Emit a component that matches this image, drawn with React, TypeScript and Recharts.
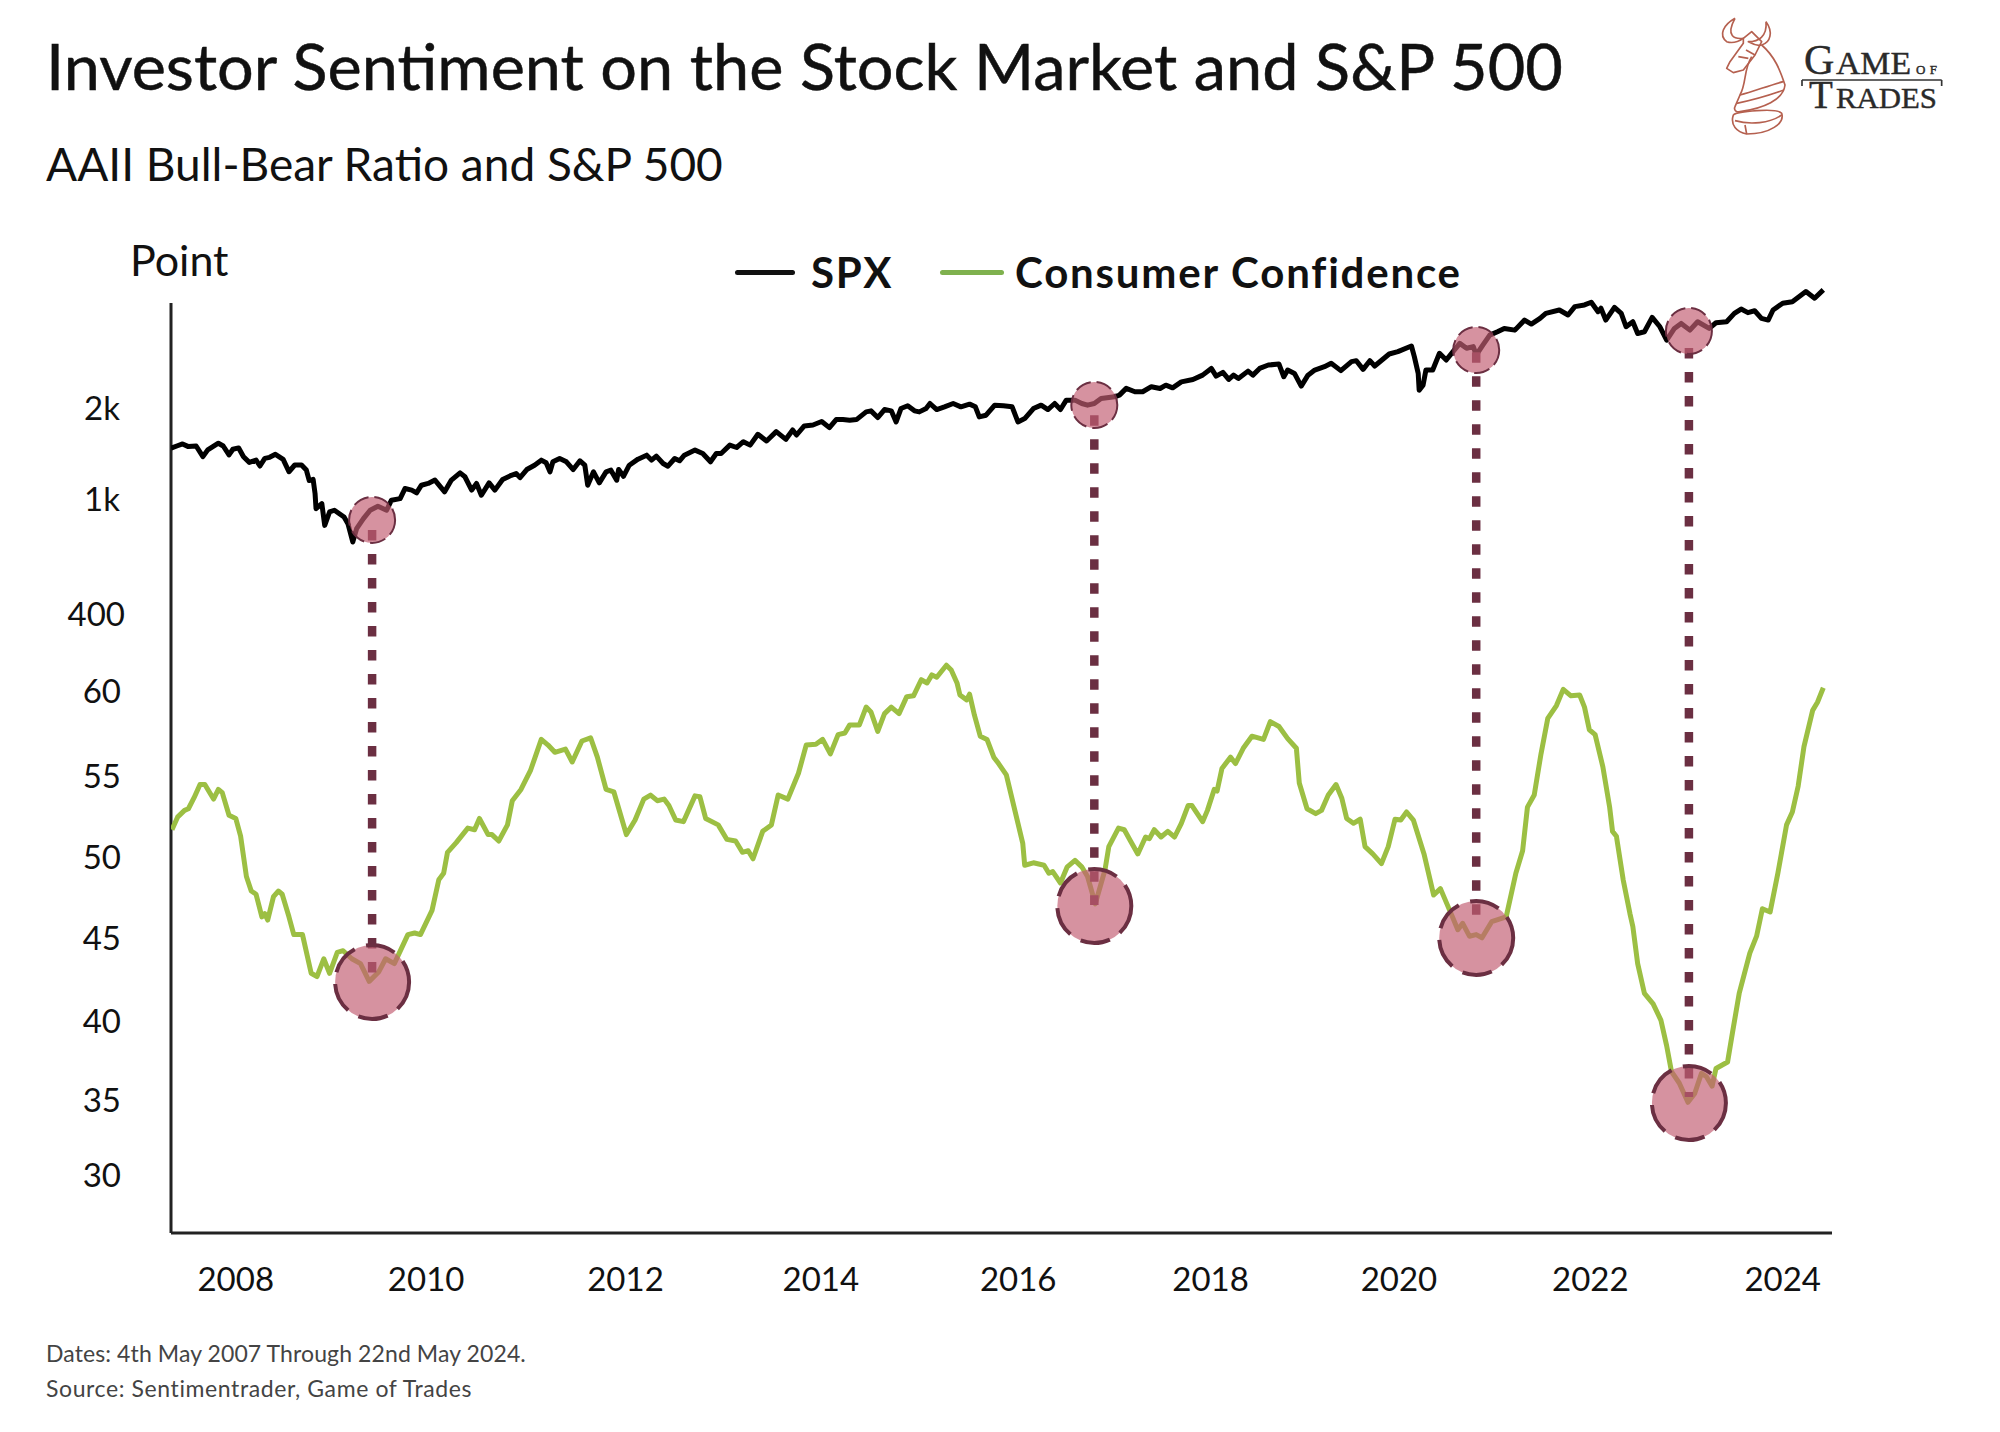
import {
  Legend,
  Line,
  LineChart,
  ReferenceDot,
  ReferenceLine,
  XAxis,
  YAxis,
} from 'recharts'

// values
const spxYears = [
  2007.33, 2007.39, 2007.45, 2007.51, 2007.59, 2007.66, 2007.71, 2007.82, 2007.87, 2007.93, 2007.97, 2008.03, 2008.08,
  2008.14, 2008.21, 2008.25, 2008.3, 2008.35, 2008.41, 2008.49, 2008.55, 2008.61, 2008.68, 2008.73, 2008.76, 2008.8,
  2008.82, 2008.83, 2008.89, 2008.92, 2008.97, 2009.02, 2009.12, 2009.16, 2009.21, 2009.25, 2009.32, 2009.39, 2009.47,
  2009.56, 2009.61, 2009.7, 2009.75, 2009.82, 2009.87, 2009.92, 2009.99, 2010.06, 2010.16, 2010.23, 2010.32, 2010.37,
  2010.44, 2010.49, 2010.54, 2010.62, 2010.68, 2010.76, 2010.85, 2010.9, 2010.94, 2011.01, 2011.09, 2011.16, 2011.21,
  2011.25, 2011.28, 2011.35, 2011.42, 2011.49, 2011.56, 2011.61, 2011.64, 2011.7, 2011.76, 2011.83, 2011.88, 2011.94,
  2011.96, 2012.01, 2012.07, 2012.16, 2012.25, 2012.3, 2012.35, 2012.42, 2012.47, 2012.54, 2012.59, 2012.64, 2012.75,
  2012.83, 2012.91, 2012.97, 2013.02, 2013.11, 2013.18, 2013.25, 2013.32, 2013.4, 2013.49, 2013.59, 2013.69, 2013.76,
  2013.8, 2013.88, 2013.97, 2014.06, 2014.14, 2014.21, 2014.28, 2014.35, 2014.42, 2014.52, 2014.57, 2014.64, 2014.71,
  2014.78, 2014.83, 2014.88, 2014.95, 2015.02, 2015.07, 2015.14, 2015.18, 2015.25, 2015.33, 2015.42, 2015.5, 2015.59,
  2015.65, 2015.69, 2015.76, 2015.85, 2015.94, 2016.03, 2016.09, 2016.16, 2016.25, 2016.33, 2016.4, 2016.47, 2016.53,
  2016.59, 2016.68, 2016.75, 2016.81, 2016.88, 2016.95, 2017.09, 2017.14, 2017.21, 2017.3, 2017.38, 2017.47, 2017.56,
  2017.62, 2017.69, 2017.78, 2017.9, 2018.0, 2018.09, 2018.14, 2018.21, 2018.27, 2018.32, 2018.37, 2018.47, 2018.52,
  2018.59, 2018.68, 2018.79, 2018.84, 2018.88, 2018.95, 2019.02, 2019.09, 2019.16, 2019.26, 2019.33, 2019.43, 2019.54,
  2019.59, 2019.66, 2019.73, 2019.78, 2019.93, 2020.02, 2020.16, 2020.19, 2020.23, 2020.24, 2020.28, 2020.31, 2020.38,
  2020.45, 2020.52, 2020.59, 2020.66, 2020.73, 2020.8, 2020.83, 2020.9, 2020.97, 2021.05, 2021.12, 2021.23, 2021.33,
  2021.4, 2021.49, 2021.55, 2021.69, 2021.78, 2021.85, 2021.95, 2022.02, 2022.09, 2022.12, 2022.17, 2022.26, 2022.33,
  2022.38, 2022.45, 2022.5, 2022.57, 2022.65, 2022.73, 2022.8, 2022.88, 2022.95, 2023.04, 2023.12, 2023.24, 2023.31,
  2023.42, 2023.5, 2023.57, 2023.64, 2023.71, 2023.78, 2023.85, 2023.9, 2024.0, 2024.1, 2024.24, 2024.33, 2024.42,
]
const spxValues = [
  1471, 1497, 1521, 1490, 1497, 1380, 1453, 1529, 1497, 1398, 1460, 1475, 1380, 1321, 1345, 1285, 1362, 1373, 1405,
  1352, 1230, 1295, 1295, 1246, 1150, 1160, 1042, 928, 965, 817, 905, 917, 871, 828, 720, 797, 860, 917, 945, 917, 990,
  1002, 1082, 1069, 1047, 1110, 1125, 1154, 1055, 1154, 1220, 1184, 1069, 1125, 1028, 1130, 1069, 1160, 1197, 1213,
  1176, 1251, 1293, 1344, 1317, 1229, 1327, 1361, 1327, 1251, 1337, 1293, 1110, 1229, 1130, 1229, 1245, 1153, 1251,
  1188, 1293, 1354, 1396, 1344, 1386, 1310, 1283, 1361, 1337, 1396, 1451, 1414, 1327, 1414, 1414, 1507, 1480, 1547,
  1507, 1637, 1555, 1670, 1575, 1692, 1628, 1745, 1757, 1804, 1722, 1831, 1831, 1822, 1831, 1942, 1957, 1860, 1977,
  1957, 1799, 1992, 2034, 1957, 1942, 1992, 2070, 1977, 2018, 2070, 2018, 2060, 2018, 1869, 1893, 2044, 2034, 2018,
  1799, 1845, 1992, 2044, 1977, 2070, 1977, 2124, 2124, 2070, 2044, 2070, 2150, 2179, 2207, 2323, 2264, 2264, 2353,
  2321, 2381, 2333, 2442, 2487, 2570, 2705, 2551, 2625, 2487, 2570, 2506, 2650, 2570, 2705, 2776, 2797, 2538, 2672,
  2604, 2363, 2570, 2672, 2741, 2812, 2660, 2848, 2870, 2686, 2870, 2755, 3020, 3075, 3210, 2959, 2604, 2291, 2381,
  2672, 2672, 3036, 2885, 3075, 3275, 3155, 3195, 2997, 3235, 3487, 3577, 3670, 3623, 3912, 3794, 3962, 4117, 4224,
  4065, 4334, 4390, 4480, 4170, 4280, 3912, 4310, 4117, 3717, 3862, 3532, 3577, 3992, 3717, 3355, 3670, 3813, 3623,
  3862, 3670, 3832, 3862, 4117, 4255, 4140, 4200, 3962, 3912, 4224, 4446, 4500, 4860, 4620, 4923,
]
const ccYears = [
  2007.34, 2007.4, 2007.47, 2007.51, 2007.57, 2007.63, 2007.68, 2007.77, 2007.82, 2007.86, 2007.93, 2008.0, 2008.05,
  2008.11, 2008.16, 2008.21, 2008.27, 2008.3, 2008.33, 2008.39, 2008.44, 2008.48, 2008.55, 2008.6, 2008.69, 2008.78,
  2008.84, 2008.91, 2008.97, 2009.05, 2009.11, 2009.2, 2009.29, 2009.38, 2009.48, 2009.55, 2009.64, 2009.78, 2009.85,
  2009.91, 2010.03, 2010.1, 2010.15, 2010.19, 2010.28, 2010.4, 2010.47, 2010.52, 2010.61, 2010.65, 2010.72, 2010.81,
  2010.86, 2010.95, 2011.05, 2011.16, 2011.23, 2011.3, 2011.41, 2011.48, 2011.58, 2011.67, 2011.74, 2011.83, 2011.91,
  2012.04, 2012.13, 2012.22, 2012.29, 2012.36, 2012.43, 2012.48, 2012.55, 2012.63, 2012.75, 2012.8, 2012.86, 2012.99,
  2013.08, 2013.17, 2013.24, 2013.3, 2013.35, 2013.45, 2013.54, 2013.61, 2013.71, 2013.82, 2013.9, 2014.0, 2014.07,
  2014.15, 2014.23, 2014.3, 2014.35, 2014.45, 2014.52, 2014.57, 2014.64, 2014.71, 2014.78, 2014.86, 2014.94, 2015.01,
  2015.09, 2015.15, 2015.2, 2015.25, 2015.35, 2015.4, 2015.46, 2015.49, 2015.56, 2015.59, 2015.64, 2015.7, 2015.77,
  2015.84, 2015.89, 2015.97, 2016.05, 2016.14, 2016.16, 2016.25, 2016.36, 2016.41, 2016.45, 2016.53, 2016.6, 2016.68,
  2016.75, 2016.81, 2016.89, 2016.99, 2017.03, 2017.13, 2017.19, 2017.25, 2017.33, 2017.41, 2017.45, 2017.5, 2017.57,
  2017.64, 2017.71, 2017.78, 2017.85, 2017.89, 2018.0, 2018.05, 2018.12, 2018.15, 2018.2, 2018.29, 2018.34, 2018.42,
  2018.51, 2018.63, 2018.7, 2018.79, 2018.88, 2018.97, 2019.0, 2019.08, 2019.17, 2019.23, 2019.3, 2019.38, 2019.44,
  2019.49, 2019.56, 2019.63, 2019.68, 2019.76, 2019.85, 2019.92, 2019.99, 2020.05, 2020.11, 2020.18, 2020.29, 2020.39,
  2020.46, 2020.57, 2020.64, 2020.69, 2020.76, 2020.83, 2020.89, 2020.99, 2021.14, 2021.24, 2021.31, 2021.36, 2021.43,
  2021.5, 2021.57, 2021.66, 2021.73, 2021.81, 2021.9, 2021.95, 2022.0, 2022.06, 2022.14, 2022.21, 2022.24, 2022.28,
  2022.35, 2022.42, 2022.45, 2022.5, 2022.57, 2022.66, 2022.74, 2022.8, 2022.85, 2022.93, 2023.02, 2023.09, 2023.16,
  2023.21, 2023.27, 2023.31, 2023.43, 2023.48, 2023.55, 2023.66, 2023.73, 2023.79, 2023.87, 2023.95, 2024.04, 2024.1,
  2024.16, 2024.22, 2024.31, 2024.36, 2024.42,
]
const ccValues = [
  51.4, 52.2, 52.6, 52.7, 53.4, 54.2, 54.2, 53.3, 53.9, 53.7, 52.3, 52.1, 51.0, 48.5, 47.6, 47.4, 46.0, 46.2, 45.8,
  47.25, 47.6, 47.4, 46.0, 44.9, 44.9, 42.5, 42.3, 43.4, 42.5, 43.8, 43.9, 43.4, 43.1, 42.0, 42.6, 43.4, 43.1, 44.9,
  45.0, 44.9, 46.4, 48.3, 48.7, 50.0, 50.6, 51.5, 51.4, 52.1, 51.1, 51.1, 50.7, 51.7, 53.2, 53.9, 55.1, 57.0, 56.65,
  56.2, 56.4, 55.6, 56.9, 57.1, 55.9, 53.9, 53.75, 51.1, 52.0, 53.3, 53.55, 53.2, 53.3, 52.9, 52.0, 51.9, 53.5, 53.45,
  52.1, 51.7, 50.8, 50.7, 50.0, 50.1, 49.6, 51.3, 51.7, 53.55, 53.3, 54.9, 56.65, 56.7, 57.0, 56.1, 57.3, 57.4, 57.9,
  57.9, 59.0, 58.7, 57.5, 58.6, 59.0, 58.6, 59.65, 59.7, 60.7, 60.5, 61.0, 60.85, 61.6, 61.3, 60.5, 59.75, 59.45, 59.8,
  58.5, 57.2, 57.0, 55.9, 55.5, 54.8, 52.8, 50.55, 49.2, 49.35, 49.2, 48.7, 48.8, 48.1, 49.1, 49.5, 49.1, 48.5, 46.8,
  48.9, 50.35, 51.5, 51.4, 50.75, 49.9, 50.95, 50.85, 51.4, 50.95, 51.3, 50.95, 51.8, 52.9, 52.9, 51.9, 52.6, 53.9,
  53.8, 55.2, 55.9, 55.5, 56.45, 57.2, 57.0, 58.1, 57.8, 57.05, 56.45, 54.3, 52.7, 52.4, 52.6, 53.55, 54.2, 53.35,
  52.1, 51.8, 52.05, 50.35, 49.9, 49.3, 50.35, 52.05, 52.0, 52.5, 52.0, 49.9, 47.35, 47.75, 46.2, 45.2, 45.6, 44.8,
  44.9, 44.7, 45.7, 46.0, 48.7, 50.1, 52.8, 53.55, 56.1, 58.3, 59.1, 60.1, 59.7, 59.75, 59.0, 57.6, 57.3, 55.3, 52.8,
  51.3, 51.0, 48.3, 46.2, 45.4, 43.1, 41.25, 40.6, 39.6, 38.0, 36.4, 35.7, 34.5, 35.05, 36.3, 36.1, 35.5, 36.6, 37.0,
  38.8, 41.25, 43.75, 44.8, 46.5, 46.3, 48.7, 51.7, 52.5, 54.1, 56.55, 58.8, 59.3, 60.2,
]

const yearTicks = [2008, 2010, 2012, 2014, 2016, 2018, 2020, 2022, 2024]
const spxTicks = [400, 1000, 2000]
const ccTicks = [30, 35, 40, 45, 50, 55, 60]

// the four marked lows: year, spx circle, cc circle, where the dotted line runs
const markYears = [2009.41, 2016.88, 2020.83, 2023.03]
const markSpx = [852, 2047, 3113, 3600]
const markCc = [41.96, 46.67, 44.69, 34.46]
const dropTop = [69.98, 77.1, 81.0, 81.26]
const dropBottom = [42.5, 46.73, 45.37, 34.83]

const spxData = spxYears.map((t, i) => ({ t, v: spxValues[i] }))
const ccData = ccYears.map((t, i) => ({ t, v: ccValues[i] }))

const FONT = 'Lato, sans-serif'
const BLACK = '#000000'
const GREEN = '#9cbf43'
const LEGEND_GREEN = '#7fb14e'
const PLUM = '#6b2f42'
const PINK = '#c25f73'

const tickStyle = { fill: '#111', fontSize: 33, fontFamily: FONT }

// the labels in the reference sit a few pixels off their true place
const yearNudge: Record<number, number> = { 2010: -3, 2012: 3, 2014: 5, 2016: 9, 2018: 8, 2020: 3, 2022: 1 }
const ccNudge: Record<number, number> = { 55: 5, 50: 5, 45: 5, 40: 8, 35: 6 }

function YearTick({ x, y, payload }: any) {
  return (
    <text x={x + (yearNudge[payload.value] ?? 0)} y={y} dy="0.71em" textAnchor="middle" {...tickStyle}>
      {payload.value}
    </text>
  )
}

function CcTick({ x, y, payload }: any) {
  return (
    <text x={x} y={y + (ccNudge[payload.value] ?? 0)} dy="0.355em" textAnchor="end" {...tickStyle}>
      {payload.value}
    </text>
  )
}

function SpxTick({ x, y, payload }: any) {
  const v = payload.value
  const low = v < 1000
  return (
    <text x={x + (low ? 5 : 0)} y={y - (low ? 5 : 0)} dy="0.355em" textAnchor="end" {...tickStyle}>
      {low ? v : `${v / 1000}k`}
    </text>
  )
}

function ChartLegend() {
  const text = { position: 'absolute', top: 0, fontSize: 42, lineHeight: '50px', fontWeight: 700, letterSpacing: 1.8, color: '#111', whiteSpace: 'nowrap' } as const
  const swatch = { position: 'absolute', top: 23, height: 5, borderRadius: 3 } as const
  return (
    <div style={{ position: 'relative', width: 760, height: 50, fontFamily: FONT }}>
      <div style={{ ...swatch, left: 0, width: 60, background: '#111' }} />
      <div style={{ ...text, left: 76 }}>SPX</div>
      <div style={{ ...swatch, left: 205, width: 64, background: LEGEND_GREEN }} />
      <div style={{ ...text, left: 280 }}>Consumer Confidence</div>
    </div>
  )
}

function Logo() {
  const serif = { fontFamily: "'Liberation Serif', serif", fill: '#2a2a2a', stroke: '#2a2a2a', strokeWidth: 0.4 }
  return (
    <>
      <svg style={{ position: 'absolute', left: 1680, top: 0 }} width={320} height={150} viewBox="0 0 960 450">
        <g fill="none" stroke="#b5604f" strokeWidth={5} strokeLinejoin="round">
          <path d="M165 55 C130 75 115 105 140 125 C160 132 175 125 190 115 C165 118 135 110 165 55" />
          <path d="M258 65 C280 95 272 128 245 135 C228 140 215 130 205 125 C235 125 262 110 258 65" />
          <path d="M190 115 L215 95 L245 125 L225 165 L190 210 L160 218 L140 205 L150 185 L190 130 Z" />
          <path d="M198 150 L225 165 M175 170 L205 175" />
          <path d="M215 170 C190 210 200 250 180 285 L165 320 C160 330 170 338 180 335 C250 325 310 300 315 255 C300 210 285 170 245 135" />
          <path d="M180 285 C220 275 270 255 310 245 M170 310 C220 300 270 285 312 270" />
          <path d="M160 345 C170 335 290 322 305 340 C315 370 270 402 200 402 C170 396 150 375 160 345 Z" />
          <path d="M165 362 C210 375 270 370 305 345 M195 375 L200 402" />
        </g>
        <path d="M366 240 H785 M366 240 V258 M785 240 V258" stroke="#333" strokeWidth={5} fill="none" />
      </svg>
      <svg style={{ position: 'absolute', left: 0, top: 0 }} width={2000} height={150}>
        <text x={1804} y={74} fontSize={42} {...serif}>G</text>
        <text x={1836} y={74} fontSize={31} textLength={75} lengthAdjust="spacingAndGlyphs" {...serif}>AME</text>
        <text x={1916} y={74} fontSize={13} textLength={21} {...serif}>OF</text>
        <text x={1809} y={108} fontSize={39} {...serif}>T</text>
        <text x={1836} y={108} fontSize={30} textLength={101} lengthAdjust="spacingAndGlyphs" {...serif}>RADES</text>
      </svg>
    </>
  )
}

export default function App() {
  const label = { position: 'absolute', fontFamily: FONT, lineHeight: 1, whiteSpace: 'nowrap', color: '#111' } as const
  return (
    <div style={{ position: 'absolute', left: 0, top: 0, width: 2000, height: 1432, background: '#fff', overflow: 'hidden' }}>
      <div style={{ ...label, left: 46, top: 33, fontSize: 64.8, WebkitTextStroke: '0.5px #111' }}>
        Investor Sentiment on the Stock Market and S&amp;P 500
      </div>
      <div style={{ ...label, left: 46, top: 141, fontSize: 46 }}>AAII Bull-Bear Ratio and S&amp;P 500</div>
      <div style={{ ...label, left: 130, top: 238, fontSize: 43 }}>Point</div>
      <Logo />
      <LineChart
        width={2000}
        height={1432}
        margin={{ top: 280, right: 168, bottom: 89, left: 101 }}
        style={{ position: 'absolute', left: 0, top: 0 }}
      >
        <XAxis
          xAxisId="t"
          type="number"
          dataKey="t"
          domain={[2007.33, 2024.51]}
          ticks={yearTicks}
          interval={0}
          height={60}
          tickLine={false}
          tickMargin={29}
          tick={<YearTick />}
          axisLine={{ stroke: '#222', strokeWidth: 3 }}
          allowDataOverflow
        />
        <YAxis
          yAxisId="cc"
          type="number"
          domain={[26.4, 85.48]}
          ticks={ccTicks}
          interval={0}
          width={1}
          axisLine={false}
          tickLine={false}
          tickMargin={44}
          tick={<CcTick />}
          allowDataOverflow
        />
        <YAxis
          yAxisId="spx"
          type="number"
          scale="log"
          domain={[3.7, 5310]}
          ticks={spxTicks}
          interval={0}
          width={69}
          axisLine={false}
          tickLine={false}
          tickMargin={44}
          tick={<SpxTick />}
          allowDataOverflow
        />
        <Legend
          content={<ChartLegend />}
          wrapperStyle={{ position: 'absolute', left: 735, top: 247, width: 760 }}
        />
        <ReferenceLine
          xAxisId="t"
          yAxisId="cc"
          segment={[
            { x: 2007.33, y: 84.05 },
            { x: 2007.33, y: 26.4 },
          ]}
          stroke="#222"
          strokeWidth={3}
        />
        <Line
          xAxisId="t"
          yAxisId="spx"
          data={spxData}
          dataKey="v"
          name="SPX"
          type="linear"
          stroke={BLACK}
          strokeWidth={5}
          strokeLinejoin="round"
          dot={false}
          isAnimationActive={false}
        />
        <Line
          xAxisId="t"
          yAxisId="cc"
          data={ccData}
          dataKey="v"
          name="Consumer Confidence"
          type="linear"
          stroke={GREEN}
          strokeWidth={5}
          strokeLinejoin="round"
          dot={false}
          isAnimationActive={false}
        />
        {markYears.map((year, i) => (
          <ReferenceLine
            key={`drop-${year}`}
            xAxisId="t"
            yAxisId="cc"
            segment={[
              { x: year, y: dropTop[i] },
              { x: year, y: dropBottom[i] },
            ]}
            stroke={PLUM}
            strokeWidth={8.5}
            strokeDasharray="10.5 13.5"
          />
        ))}
        {markYears.map((year, i) => (
          <ReferenceDot
            key={`spx-${year}`}
            xAxisId="t"
            yAxisId="spx"
            x={year}
            y={markSpx[i]}
            r={23}
            fill={PINK}
            fillOpacity={0.68}
            stroke={PLUM}
            strokeWidth={2}
            strokeDasharray="16 6"
          />
        ))}
        {markYears.map((year, i) => (
          <ReferenceDot
            key={`cc-${year}`}
            xAxisId="t"
            yAxisId="cc"
            x={year}
            y={markCc[i]}
            r={37}
            fill={PINK}
            fillOpacity={0.68}
            stroke={PLUM}
            strokeWidth={4}
            strokeDasharray="30 12"
          />
        ))}
      </LineChart>
      <div style={{ ...label, left: 46, top: 1342, fontSize: 23, letterSpacing: 0.1, color: '#444' }}>Dates: 4th May 2007 Through 22nd May 2024.</div>
      <div style={{ ...label, left: 46, top: 1377, fontSize: 23, letterSpacing: 0.6, color: '#444' }}>Source: Sentimentrader, Game of Trades</div>
    </div>
  )
}
